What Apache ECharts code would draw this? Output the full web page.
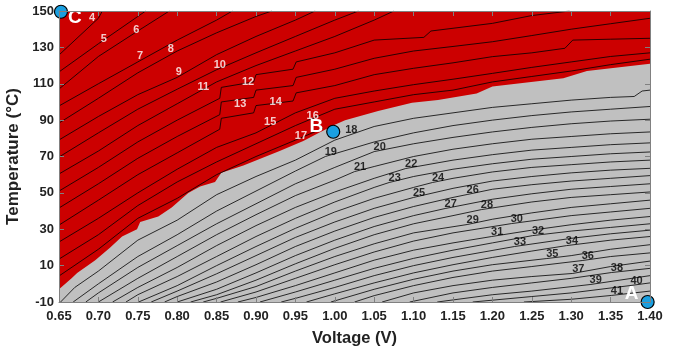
<!DOCTYPE html>
<html><head><meta charset="utf-8">
<script src="https://cdn.jsdelivr.net/npm/echarts@6/dist/echarts.min.js"></script>
<style>html,body{margin:0;padding:0;background:#fff}#c{width:676px;height:351px}</style>
</head><body><div id="c"></div>
<script>
// ---- data ----
const xMin = 0.65, xMax = 1.40, xStep = 0.05;
const yMin = -10, yMax = 150, yStep = 20;

// red/gray boundary (V, T)
const boundary = [[0.65,-3],[0.666,3],[0.673,6],[0.696,13],[0.715,20],[0.73,26],[0.749,30],[0.753,34],[0.776,37],[0.793,42],[0.814,50],[0.829,53.5],[0.848,56],[0.856,61],[0.884,65],[0.93,73],[0.96,78.5],[0.98,83],[1.0,87.5],[1.013,90],[1.055,95],[1.098,99.5],[1.131,101],[1.18,104.7],[1.2,108.5],[1.29,113],[1.32,117],[1.40,121]];

// contour lines (V, T)
const line04 = [[0.65,125.8],[0.70,146],[0.705,150]];
const line05 = [[0.65,116.5],[0.70,132],[0.75,147],[0.76,150]];
const line06 = [[0.65,107.1],[0.70,125],[0.75,139],[0.79,150]];
const line07 = [[0.65,97.8],[0.70,110],[0.75,122],[0.80,134],[0.85,145],[0.87,150]];
const line08 = [[0.65,88.4],[0.70,102],[0.75,116],[0.80,128],[0.85,138],[0.90,147],[0.92,150]];
const line09 = [[0.65,79.1],[0.70,92],[0.75,104],[0.80,113.5],[0.85,126],[0.90,136],[0.95,145],[0.975,150]];
const line10 = [[0.65,69.7],[0.70,83],[0.75,96],[0.80,107],[0.85,117.7],[0.90,127],[0.95,136],[1.00,145],[1.03,150]];
const line11 = [[0.65,60.4],[0.70,73],[0.75,87],[0.80,99],[0.85,111],[0.90,120],[0.95,128],[1.00,136],[1.05,145],[1.075,150]];
const line12 = [[0.65,51],[0.70,64],[0.75,78],[0.80,90],[0.854,102],[0.856,108],[0.897,111],[0.90,115],[0.947,118],[0.951,122],[1.00,127],[1.05,134],[1.113,135.5],[1.122,139],[1.20,143.2],[1.25,147.5],[1.298,150]];
const line13 = [[0.65,41.7],[0.70,55],[0.75,69],[0.80,81],[0.854,93],[0.856,100],[0.897,102.5],[0.90,106.5],[0.947,109],[0.951,113.5],[1.00,118],[1.05,124],[1.10,128],[1.15,130.5],[1.20,133.1],[1.25,136.5],[1.30,140],[1.35,143],[1.40,146]];
const line14 = [[0.65,32.3],[0.70,46],[0.75,60],[0.80,72],[0.854,85],[0.856,91],[0.897,94],[0.90,98],[0.947,100.5],[0.951,105],[1.00,109],[1.05,115],[1.10,118.5],[1.15,121.5],[1.20,124.9],[1.25,127],[1.292,129.5],[1.302,134],[1.35,134.5],[1.40,135]];
const line15 = [[0.65,23],[0.70,36],[0.75,50],[0.80,63],[0.85,75],[0.90,83],[0.95,94],[1.00,102],[1.05,106],[1.10,109.5],[1.15,112.5],[1.20,115.7],[1.25,119],[1.30,122],[1.35,125],[1.40,127]];
const line16 = [[0.65,13.6],[0.70,27],[0.75,43],[0.80,56],[0.85,67],[0.90,77],[0.95,87],[1.00,96],[1.05,100],[1.10,104],[1.15,106.5],[1.20,111],[1.25,114],[1.30,117],[1.35,120.5],[1.40,123.5]];
const line17 = [[0.65,4.3],[0.70,19],[0.75,36],[0.80,47],[0.85,60],[0.90,70],[0.95,79],[0.985,85.5]];
const line18 = [[0.652,-10],[0.67,-2],[0.70,7],[0.75,24],[0.80,35],[0.85,49],[0.90,59],[0.95,68],[1.00,79],[1.05,86.5],[1.10,91],[1.15,94],[1.20,97],[1.25,99],[1.30,101],[1.35,102.5],[1.38,103],[1.39,106],[1.40,106.5]];
const line19 = [[0.668,-10],[0.70,0],[0.75,15],[0.80,27],[0.85,40],[0.90,51],[0.95,62],[0.988,70],[1.05,78],[1.10,83],[1.15,87],[1.20,90],[1.25,92.5],[1.30,94.5],[1.35,96],[1.40,97.5]];
const line20 = [[0.684,-10],[0.70,-5],[0.75,9],[0.80,21],[0.85,33],[0.90,44],[0.95,55],[1.00,64],[1.05,72.7],[1.10,77],[1.15,80.5],[1.20,83.5],[1.25,86],[1.30,88],[1.35,89.5],[1.40,90.5]];
const line21 = [[0.70,-10],[0.75,3],[0.80,15],[0.85,27],[0.90,38],[0.95,48.5],[1.00,57],[1.025,61.7],[1.05,64.5],[1.10,70],[1.15,74],[1.20,77],[1.25,79.5],[1.30,81],[1.35,82.5],[1.40,83.5]];
const line22 = [[0.718,-10],[0.75,-2],[0.80,9],[0.85,21],[0.90,32],[0.95,42],[1.00,50.5],[1.05,58],[1.09,63.4],[1.15,68],[1.20,71],[1.25,73.5],[1.30,75],[1.35,76.5],[1.40,77.5]];
const line23 = [[0.735,-10],[0.75,-6],[0.80,4],[0.85,15],[0.90,26],[0.95,36],[1.00,45],[1.05,53],[1.069,55.7],[1.10,59],[1.15,63],[1.20,66],[1.25,68.5],[1.30,70],[1.35,71.5],[1.40,72.5]];
const line24 = [[0.751,-10],[0.80,-1],[0.85,10],[0.90,20.5],[0.95,30.5],[1.00,39.5],[1.05,47],[1.10,53],[1.124,55.7],[1.15,58],[1.20,61.5],[1.25,64],[1.30,65.5],[1.35,67],[1.40,68]];
const line25 = [[0.767,-10],[0.80,-4],[0.85,5.5],[0.90,15.5],[0.95,25.5],[1.00,34],[1.05,41.5],[1.10,47.5],[1.15,52.5],[1.20,56.5],[1.25,59],[1.30,61],[1.35,62.5],[1.40,63.5]];
const line26 = [[0.784,-10],[0.80,-7],[0.85,1],[0.90,10.5],[0.95,20.5],[1.00,29],[1.05,36.5],[1.10,42.5],[1.15,47.5],[1.168,49.1],[1.20,52],[1.25,54.5],[1.30,56.5],[1.35,58],[1.40,59.5]];
const line27 = [[0.80,-10],[0.85,-3],[0.90,6],[0.95,15.5],[1.00,24],[1.05,31.5],[1.10,37.5],[1.14,41.4],[1.20,46.5],[1.25,49.5],[1.30,52],[1.35,53.5],[1.40,55]];
const line28 = [[0.817,-10],[0.85,-6],[0.90,2],[0.95,11],[1.00,19.5],[1.05,27],[1.10,33],[1.15,37.5],[1.186,40.8],[1.25,45],[1.30,47.5],[1.35,49],[1.40,50.5]];
const line29 = [[0.833,-10],[0.85,-8],[0.90,-1.5],[0.95,7],[1.00,15],[1.05,22],[1.10,28],[1.168,32.6],[1.20,35.5],[1.25,39],[1.30,42],[1.35,44],[1.40,46]];
const line30 = [[0.855,-10],[0.90,-4.5],[0.95,3],[1.00,10.5],[1.05,17.5],[1.10,23.5],[1.15,28],[1.224,33.1],[1.30,37.5],[1.35,39.5],[1.40,41.5]];
const line31 = [[0.877,-10],[0.90,-7.5],[0.95,-1],[1.00,6],[1.05,13],[1.10,18.5],[1.15,22.5],[1.199,26],[1.25,29.5],[1.30,32.5],[1.35,35],[1.40,37]];
const line32 = [[0.905,-10],[0.95,-4.5],[1.00,2],[1.05,8.5],[1.10,14],[1.15,18.5],[1.20,22.5],[1.251,26.5],[1.30,29],[1.35,31],[1.40,33]];
const line33 = [[0.932,-10],[0.95,-8],[1.00,-2],[1.05,4.5],[1.10,10],[1.15,14.5],[1.228,20.5],[1.30,25],[1.35,27.5],[1.40,29.5]];
const line34 = [[0.964,-10],[1.00,-5.5],[1.05,0.5],[1.10,6],[1.15,10.5],[1.20,14.5],[1.25,18],[1.294,21],[1.35,24],[1.40,26]];
const line35 = [[0.995,-10],[1.05,-3],[1.10,2.5],[1.15,7],[1.20,10.5],[1.269,13.9],[1.30,15.5],[1.35,19],[1.40,21.5]];
const line36 = [[1.025,-10],[1.05,-6.5],[1.10,-1],[1.15,3.5],[1.20,7],[1.25,9.5],[1.314,12.8],[1.35,15],[1.40,17]];
const line37 = [[1.06,-10],[1.10,-5],[1.15,-1],[1.20,2],[1.25,4],[1.302,5.7],[1.35,9.5],[1.40,12.5]];
const line38 = [[1.095,-10],[1.15,-5],[1.20,-2],[1.25,0.5],[1.30,3],[1.351,6.2],[1.40,8.5]];
const line39 = [[1.13,-10],[1.20,-6],[1.25,-4],[1.324,-0.4],[1.40,4.5]];
const line40 = [[1.175,-10],[1.25,-7],[1.30,-5],[1.376,-0.9],[1.40,0.5]];
const line41 = [[1.24,-10],[1.30,-8.5],[1.351,-6.4],[1.40,-4]];

// contour label texts and their centres (V, T)
const labelText = ['4','5','6','7','8','9','10','11','12','13','14','15','16','17','18','19','20','21','22','23','24','25','26','27','28','29','30','31','32','33','34','35','36','37','38','39','40','41'];
const labelV = [0.692,0.707,0.748,0.753,0.792,0.802,0.854,0.833,0.890,0.880,0.925,0.918,0.972,0.957,1.021,0.995,1.057,1.032,1.097,1.076,1.131,1.107,1.175,1.147,1.193,1.175,1.231,1.206,1.258,1.235,1.301,1.276,1.321,1.309,1.358,1.331,1.383,1.358];
const labelT = [146.2,134.6,139.6,125.3,129.1,116.5,120.3,108.2,111.0,98.9,100.0,89.0,92.3,81.3,84.6,72.5,75.2,64.2,65.9,58.2,58.2,50.0,51.6,43.9,43.3,35.1,35.6,28.5,29.0,23.0,23.5,16.4,15.3,8.2,8.7,2.1,1.6,-3.9];

// marked operating points
const pointName = ['A','B','C'];
const pointV = [1.397,0.998,0.6525];
const pointT = [-10,83.6,149.6];

// ---- chart ----
const contourLines = [line04,line05,line06,line07,line08,line09,line10,line11,line12,line13,line14,line15,line16,line17,line18,line19,line20,line21,line22,line23,line24,line25,line26,line27,line28,line29,line30,line31,line32,line33,line34,line35,line36,line37,line38,line39,line40,line41];
const FONT = 'Liberation Sans, Arial, sans-serif';
const frame = '#808080';

const series = [];
series.push({
  type:'line', data: boundary, symbol:'none', silent:true, z:1,
  lineStyle:{width:0}, areaStyle:{color:'#cc0000', opacity:1, origin:'end'}
});
contourLines.forEach(function(l){
  series.push({type:'line', data:l, symbol:'none', silent:true, z:3, clip:true,
    lineStyle:{color:'#000', width:0.8}});
});
series.push({
  type:'scatter', symbolSize:0, silent:true, z:5,
  data: labelText.map(function(t,i){return {value:[labelV[i],labelT[i]], name:t,
    label:{color: (parseInt(t,10) <= 17) ? '#fff' : '#000'}};}),
  label:{show:true, position:'inside', formatter:'{b}', fontSize:11, fontWeight:'bold', fontFamily:FONT}
});
const ptLabelPos = {A:{position:'left',offset:[1,-8]}, B:{position:'left',offset:[0,-5]}, C:{position:'right',offset:[-3,6]}};
series.push({
  type:'scatter', symbolSize:13, silent:true, z:6, clip:false,
  itemStyle:{color:'#1a9fe0', borderColor:'#000', borderWidth:1.2, opacity:1},
  data: pointName.map(function(n,i){return {value:[pointV[i],pointT[i]], name:n,
    label:Object.assign({show:true, formatter:'{b}', color:'#fff', fontSize:19, fontWeight:'bold', fontFamily:FONT, distance:3}, ptLabelPos[n])};})
});

const axisFrame = {show:true, onZero:false, lineStyle:{color:frame, width:1}};
const chart = echarts.init(document.getElementById('c'), null, {renderer:'canvas'});
chart.setOption({
  animation:false,
  grid:{left:59, right:26, top:11, bottom:49, show:true, backgroundColor:'#c0c0c0', borderWidth:0,
    containLabel:false, outerBoundsMode:'none'},
  xAxis:[{
    type:'value', min:xMin, max:xMax, interval:xStep, position:'bottom', z:10,
    name:'Voltage (V)', nameLocation:'middle', nameGap:28,
    nameTextStyle:{fontSize:16.5, fontWeight:'bold', color:'#222', fontFamily:FONT},
    axisLine:axisFrame,
    axisTick:{show:true, inside:true, length:5, lineStyle:{color:frame}},
    axisLabel:{fontSize:13, fontWeight:'bold', color:'#222', fontFamily:FONT, margin:8,
      formatter:function(v){return v.toFixed(2);}},
    splitLine:{show:false}
  },{
    type:'value', min:xMin, max:xMax, interval:xStep, position:'top', z:10,
    axisLine:axisFrame,
    axisTick:{show:true, inside:true, length:5, lineStyle:{color:frame}},
    axisLabel:{show:false}, splitLine:{show:false}
  }],
  yAxis:[{
    type:'value', min:yMin, max:yMax, interval:yStep, position:'left', z:10,
    name:'Temperature (°C)', nameLocation:'middle', nameGap:36,
    nameTextStyle:{fontSize:17, fontWeight:'bold', color:'#222', fontFamily:FONT},
    axisLine:axisFrame,
    axisTick:{show:true, inside:true, length:5, lineStyle:{color:frame}},
    axisLabel:{fontSize:13, fontWeight:'bold', color:'#222', fontFamily:FONT, margin:5},
    splitLine:{show:false}
  },{
    type:'value', min:yMin, max:yMax, interval:yStep, position:'right', z:10,
    axisLine:axisFrame,
    axisTick:{show:true, inside:true, length:5, lineStyle:{color:frame}},
    axisLabel:{show:false}, splitLine:{show:false}
  }],
  series: series
});
</script></body></html>
